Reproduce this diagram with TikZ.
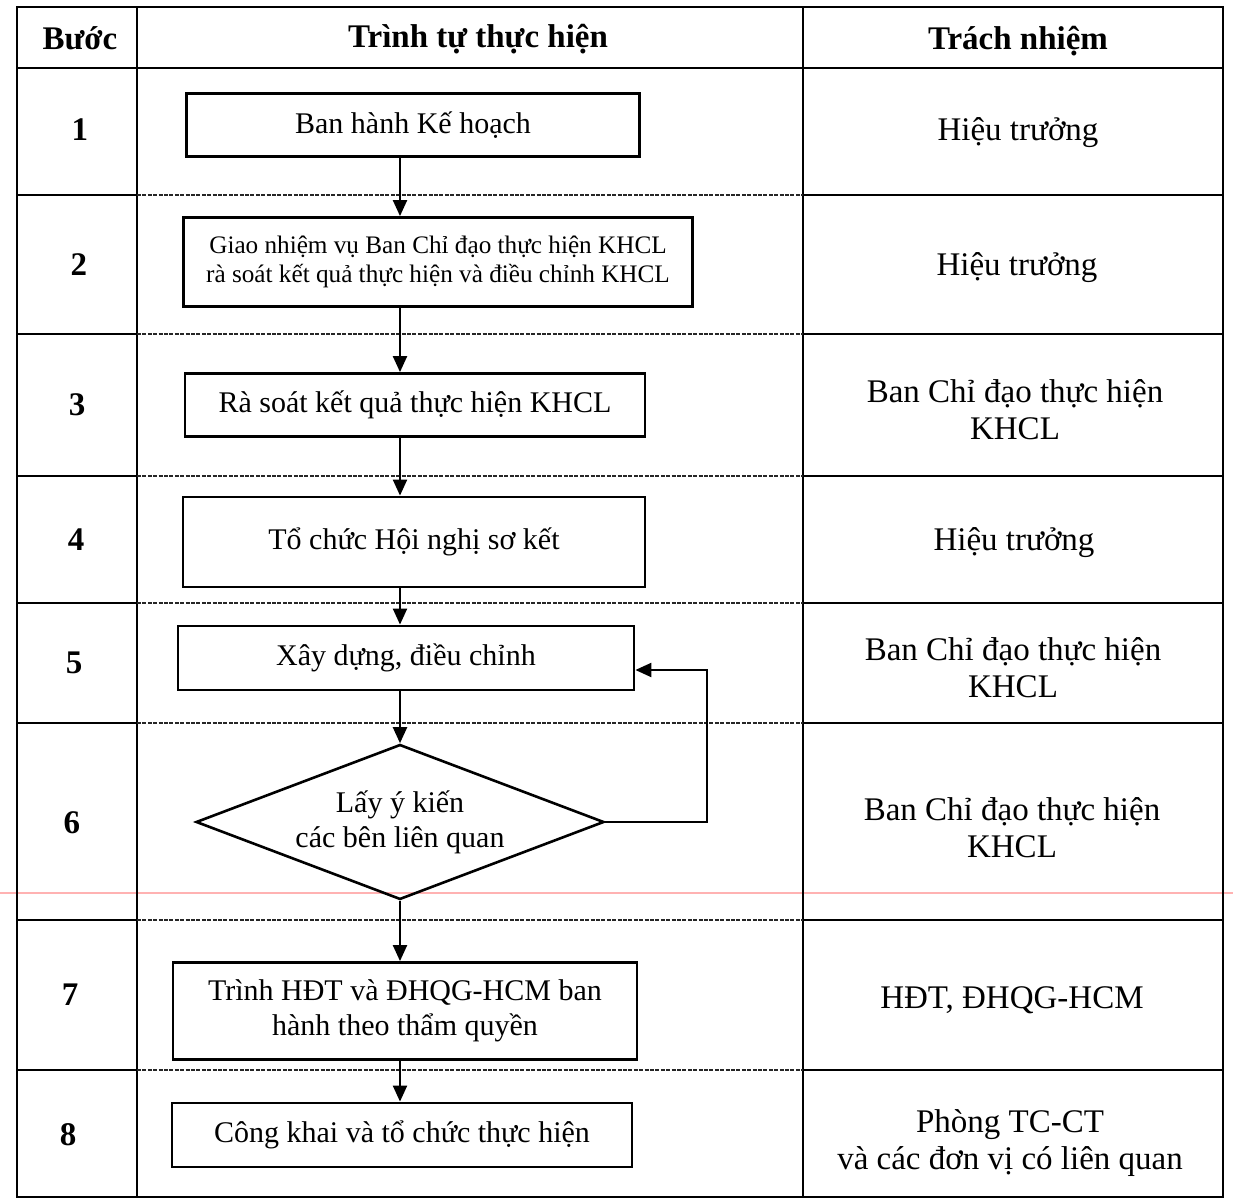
\documentclass[tikz,border=0pt]{standalone}
\usepackage{fontspec}
\setmainfont{Liberation Serif}
\usetikzlibrary{shapes.geometric}
\usetikzlibrary{arrows.meta}
\tikzset{rule/.style={line width=0.9pt, draw=black},
    ruledash/.style={line width=0.7pt, draw=black!85, dash pattern=on 2pt off 0.7pt},
    scanline/.style={line width=1.3pt, draw=red!30},
    head/.style={font=\fontsize{16.5}{19}\selectfont\bfseries},
    stepno/.style={font=\fontsize{16.5}{19}\selectfont\bfseries},
    duty/.style={align=center, font=\fontsize{16.5}{18.5}\selectfont},
    box/.style={
    draw=black,
    line width=1.4pt,
    align=center,
    inner sep=0pt,
    font=\fontsize{15}{17.5}\selectfont,
    },
    choice/.style={diamond, draw=black, line width=1.3pt, align=center, inner sep=0pt, aspect=2.6, font=\fontsize{15}{17.5}\selectfont},
    flow/.style={line width=1.1pt, -{Triangle[length=8pt,width=7pt]}},
}

\begin{document}
\begin{tikzpicture}[x=0.5pt,y=-0.5pt]
\useasboundingbox (0,0) rectangle (1233,1202);
\draw[scanline] (0,893) -- (1233,893); % page fold of the scan
% frame and columns
\draw[rule] (17,7) rectangle (1223,1197);
\draw[rule] (137,7) -- (137,1197);
\draw[rule] (803,7) -- (803,1197);
\draw[rule] (17,68) -- (1223,68); % header
\draw[rule] (17,195) -- (137,195) (803,195) -- (1223,195);
\draw[ruledash] (137,195) -- (803,195);
\draw[rule] (17,334) -- (137,334) (803,334) -- (1223,334);
\draw[ruledash] (137,334) -- (803,334);
\draw[rule] (17,476) -- (137,476) (803,476) -- (1223,476);
\draw[ruledash] (137,476) -- (803,476);
\draw[rule] (17,603) -- (137,603) (803,603) -- (1223,603);
\draw[ruledash] (137,603) -- (803,603);
\draw[rule] (17,723) -- (137,723) (803,723) -- (1223,723);
\draw[ruledash] (137,723) -- (803,723);
\draw[rule, line width=1.3pt] (17,920) -- (137,920) (803,920) -- (1223,920);
\draw[ruledash, line width=1pt] (137,920) -- (803,920);
\draw[rule] (17,1070) -- (137,1070) (803,1070) -- (1223,1070);
\draw[ruledash] (137,1070) -- (803,1070);
% header
\node[head] (hstep) at (80,38) {Bước};
\node[head] (hflow) at (478,39) {Trình tự thực hiện};
\node[head] (hduty) at (1018,41) {Trách nhiệm};
% step numbers
\node[stepno] (s1) at (80,130) {1};
\node[stepno] (s2) at (79,265) {2};
\node[stepno] (s3) at (77,405) {3};
\node[stepno] (s4) at (76,540) {4};
\node[stepno] (s5) at (74,663) {5};
\node[stepno] (s6) at (72,823) {6};
\node[stepno] (s7) at (70,995) {7};
\node[stepno] (s8) at (68,1135) {8};
% responsibilities
\node[duty] (r1) at (1018,133) {Hiệu trưởng};
\node[duty] (r2) at (1017,268) {Hiệu trưởng};
\node[duty] (r3) at (1015,410) {Ban Chỉ đạo thực hiện\\KHCL};
\node[duty] (r4) at (1014,543) {Hiệu trưởng};
\node[duty] (r5) at (1013,668) {Ban Chỉ đạo thực hiện\\KHCL};
\node[duty] (r6) at (1012,828) {Ban Chỉ đạo thực hiện\\KHCL};
\node[duty] (r7) at (1012,1000) {HĐT, ĐHQG-HCM};
\node[duty] (r8) at (1010,1143) {Phòng TC-CT\\và các đơn vị có liên quan};
% flow
\coordinate (axis) at (400,0); % line of the down arrows
\node[box, minimum width=226.5pt, minimum height=31.5pt] (b1) at (413,125) {Ban hành Kế hoạch};
\node[box, minimum width=254.5pt, minimum height=44.5pt, font=\fontsize{12.6}{14.5}\selectfont] (b2) at (438,262) {Giao nhiệm vụ Ban Chỉ đạo thực hiện KHCL\\rà soát kết quả thực hiện và điều chỉnh KHCL};
\node[box, minimum width=230pt, minimum height=31.5pt] (b3) at (415,405) {Rà soát kết quả thực hiện KHCL};
\node[box, minimum width=231pt, minimum height=45pt] (b4) at (414,542) {Tổ chức Hội nghị sơ kết};
\node[box, minimum width=228pt, minimum height=32pt] (b5) at (406,658) {Xây dựng, điều chỉnh};
\node[choice, minimum width=204pt, minimum height=77.5pt] (d6) at (400,822) {Lấy ý kiến\\các bên liên quan};
\node[box, minimum width=232pt, minimum height=48.5pt] (b7) at (405,1011) {Trình HĐT và ĐHQG-HCM ban\\hành theo thẩm quyền};
\node[box, minimum width=230pt, minimum height=32pt] (b8) at (402,1135) {Công khai và tổ chức thực hiện};
\draw[flow] (b1.south -| axis) -- (b2.north -| axis);
\draw[flow] (b2.south -| axis) -- (b3.north -| axis);
\draw[flow] (b3.south -| axis) -- (b4.north -| axis);
\draw[flow] (b4.south -| axis) -- (b5.north -| axis);
\draw[flow] (b5.south -| axis) -- (d6.north);
\draw[flow] (d6.south) -- (b7.north -| axis);
\draw[flow] (b7.south -| axis) -- (b8.north -| axis);
\coordinate (loop) at (707,670); % back to step 5
\draw[flow] (d6.east) -| (loop) -- (b5.east |- loop);
\end{tikzpicture}
\end{document}
